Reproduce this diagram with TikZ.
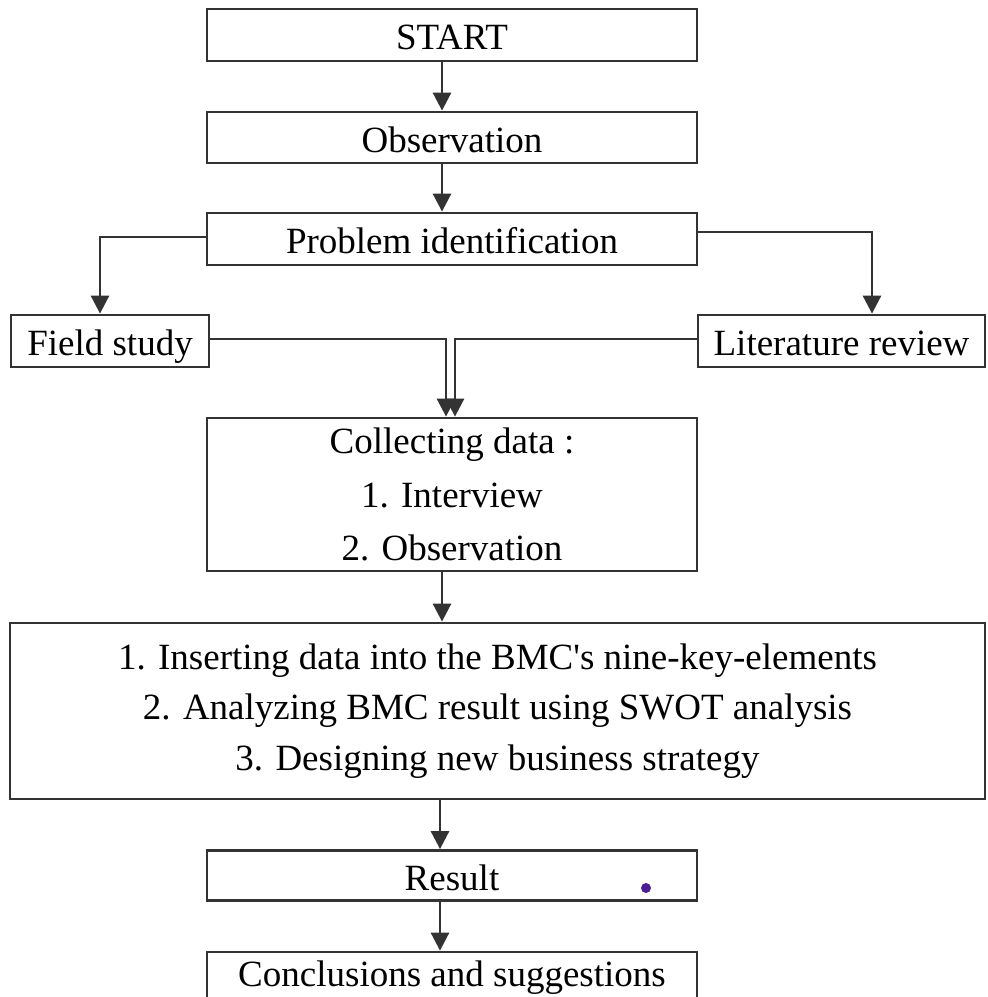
\documentclass[tikz,border=0pt]{standalone}
\usepackage{fontspec}
\setmainfont{Liberation Serif}[Ligatures=TeXOff]
\usetikzlibrary{arrows.meta}
\begin{document}
\begin{tikzpicture}[x=1pt,y=-1pt,
  box/.style={draw=black!80, line width=2.8pt, fill=white, inner sep=0pt,
    font=\fontsize{37}{53.5}\selectfont, align=center},
  one/.style={box, text height=29pt, text depth=0pt},
  conn/.style={draw=black!80, line width=2.8pt, -{Triangle[width=18pt,length=18pt]}}]
\useasboundingbox (0,0) rectangle (988,997);
\clip (0,0) rectangle (988,997);
\fill[white] (0,0) rectangle (988,997);
% nodes
\node[one, minimum width=490pt, minimum height=52pt] (start) at (452,35) {START};
\node[one, minimum width=490pt, minimum height=51pt] (obs) at (452,137.5) {Observation};
\node[one, minimum width=490pt, minimum height=52pt] (pi) at (452,239) {Problem identification};
\node[one, minimum width=198pt, minimum height=52pt] (fs) at (110,341) {Field study};
\node[one, minimum width=287pt, minimum height=52pt] (lr) at (841.5,341) {Literature review};
\node[box, minimum width=490pt, minimum height=153pt] (coll) at (452,494.5)
  {Collecting data :\\1. Interview\\2. Observation};
\node[box, minimum width=975pt, minimum height=176pt, font=\fontsize{37}{50.5}\selectfont] (bmc) at (497.5,711)
  {1. Inserting data into the BMC's nine-key-elements\\2. Analyzing BMC result using SWOT analysis\\3. Designing new business strategy};
\node[one, minimum width=490pt, minimum height=50pt] (res) at (452,875.5) {Result};
\node[box, text height=17pt, text depth=0pt, minimum width=490pt, minimum height=52pt] (conc) at (452,978) {Conclusions and suggestions};
% helper x positions
\coordinate (ax) at (442,0);
\coordinate (bx) at (440,0);
\coordinate (fl) at (100,0);
\coordinate (fr) at (872,0);
\coordinate (m1) at (446,0);
\coordinate (m2) at (455,0);
% connectors
\draw[conn] (start.south -| ax) -- (obs.north -| ax);
\draw[conn] (obs.south -| ax) -- (pi.north -| ax);
\draw[conn] ([yshift=2pt]pi.west) -| (fs.north -| fl);
\draw[conn] ([yshift=7pt]pi.east) -| (lr.north -| fr);
\draw[conn] ([yshift=2pt]fs.east) -| (coll.north -| m1);
\draw[conn] ([yshift=2pt]lr.west) -| (coll.north -| m2);
\draw[conn] (coll.south -| ax) -- (bmc.north -| ax);
\draw[conn] (bmc.south -| bx) -- (res.north -| bx);
\draw[conn] (res.south -| bx) -- (conc.north -| bx);
% stray mark
\fill[color={rgb,255:red,75;green,30;blue,150}] (646,888) circle (5pt);
\end{tikzpicture}
\end{document}
